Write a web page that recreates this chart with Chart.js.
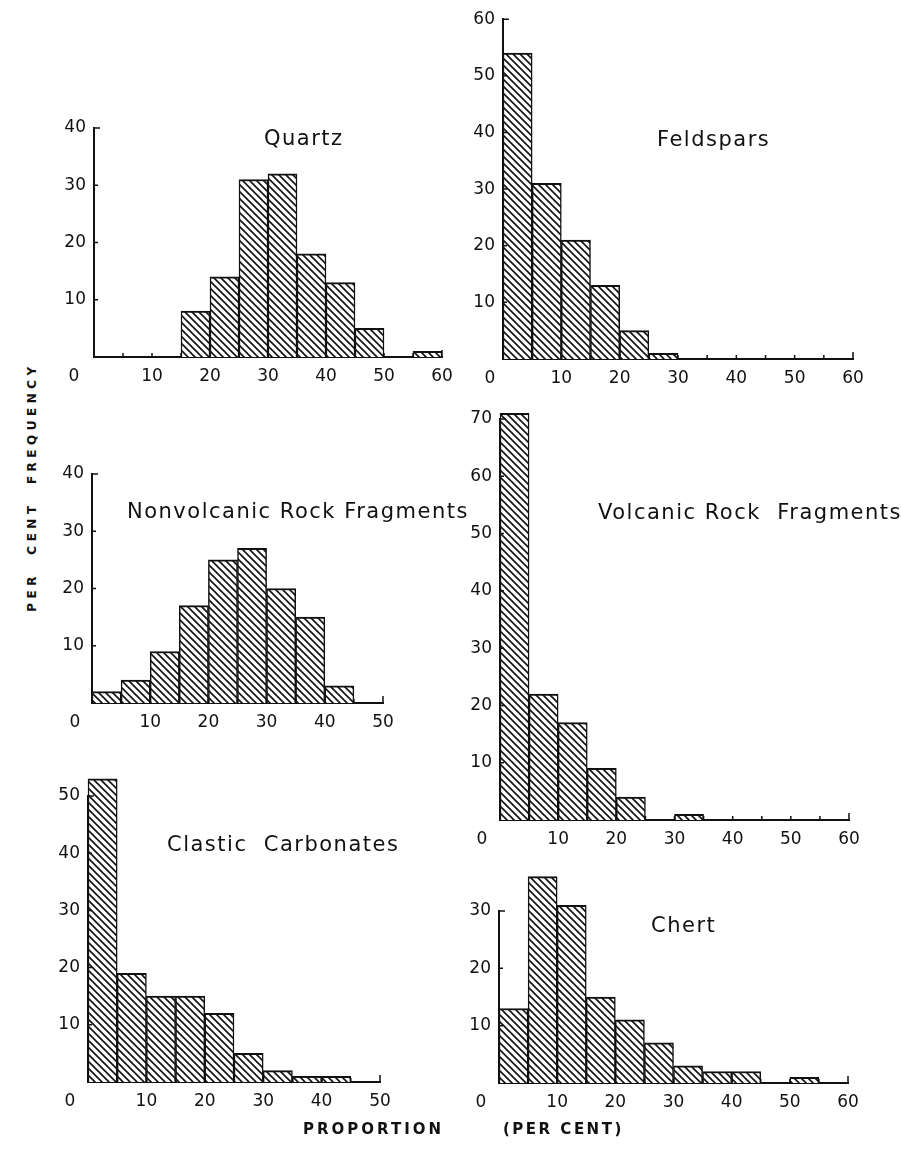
<!DOCTYPE html>
<html>
<head>
<meta charset="utf-8">
<script src="https://cdn.jsdelivr.net/npm/chart.js@4.4.1/dist/chart.umd.min.js"></script>
<style>
  html, body { margin: 0; padding: 0; background: #fff; }
  #sheet { position: relative; width: 901px; height: 1149px; overflow: hidden;
           font-family: "DejaVu Sans", sans-serif; color: #111; }
  #sheet canvas { position: absolute; }
  .ttl { position: absolute; font-size: 21px; line-height: 21px; letter-spacing: 1.5px; white-space: pre; }
  .axt { position: absolute; font-weight: bold; white-space: pre; }
</style>
</head>
<body>
<div id="sheet">
  <div class="ttl" style="left:264px; top:128px;">Quartz</div>
  <div class="ttl" style="left:657px; top:129px;">Feldspars</div>
  <div class="ttl" style="left:127px; top:501px;">Nonvolcanic Rock Fragments</div>
  <div class="ttl" style="left:598px; top:502px;">Volcanic Rock  Fragments</div>
  <div class="ttl" style="left:167px; top:834px;">Clastic  Carbonates</div>
  <div class="ttl" style="left:651px; top:915px;">Chert</div>

  <div class="axt" style="left:32px; top:487px; font-size:12px; letter-spacing:4.5px;
       transform: translate(-50%,-50%) rotate(-90deg);">PER  CENT  FREQUENCY</div>
  <div class="axt" style="left:303px; top:1120px; font-size:15px; line-height:18px; letter-spacing:3px;">PROPORTION</div>
  <div class="axt" style="left:503px; top:1120px; font-size:15px; line-height:18px; letter-spacing:2.5px;">(PER CENT)</div>
</div>

<script>
// Class midpoints (5 % wide classes)
const mids60 = [2.5, 7.5, 12.5, 17.5, 22.5, 27.5, 32.5, 37.5, 42.5, 47.5, 52.5, 57.5];
const mids50 = [2.5, 7.5, 12.5, 17.5, 22.5, 27.5, 32.5, 37.5, 42.5, 47.5];

// Per cent frequency in each class
const quartz      = [0, 0, 0, 8, 14, 31, 32, 18, 13, 5, 0, 1];
const feldspars   = [54, 31, 21, 13, 5, 1, 0, 0, 0, 0, 0, 0];
const nonvolcanic = [2, 4, 9, 17, 25, 27, 20, 15, 3, 0];
const volcanic    = [71, 22, 17, 9, 4, 0, 1, 0, 0, 0, 0, 0];
const clastic     = [53, 19, 15, 15, 12, 5, 2, 1, 1, 0];
const chert       = [13, 36, 31, 15, 11, 7, 3, 2, 2, 0, 1, 0];

// Axis extents
const xMaxWide = 60, xMaxNarrow = 50;
const yStep = 10, xTickStep = 5, xLabelStep = 10;

const FONT = '"DejaVu Sans", sans-serif';
const INK = '#111';
const TICK_SIZE = 17;

// Diagonal hatching used to fill every bar
function makeHatch() {
  const s = 7;
  const c = document.createElement('canvas');
  c.width = s; c.height = s;
  const g = c.getContext('2d');
  g.fillStyle = '#fff';
  g.fillRect(0, 0, s, s);
  g.strokeStyle = INK;
  g.lineWidth = 1.6;
  g.beginPath();
  g.moveTo(-1, -1); g.lineTo(s + 1, s + 1);
  g.moveTo(-1, s - 1); g.lineTo(1, s + 1);
  g.moveTo(s - 1, -1); g.lineTo(s + 1, 1);
  g.stroke();
  return document.createElement('canvas').getContext('2d').createPattern(c, 'repeat');
}
const hatch = makeHatch();

// Inward tick marks on both axes and the corner "0" label
const axisMarks = {
  id: 'axisMarks',
  afterDraw(chart, args, opts) {
    const { ctx } = chart;
    const x = chart.scales.x, y = chart.scales.y;
    ctx.save();
    ctx.strokeStyle = INK;
    ctx.lineWidth = 1.5;
    ctx.beginPath();
    x.ticks.forEach(t => {
      if (t.value === 0) return;
      const px = x.getPixelForValue(t.value);
      const len = t.value === x.max ? 7 : 4;
      ctx.moveTo(px, y.bottom);
      ctx.lineTo(px, y.bottom - len);
    });
    y.ticks.forEach(t => {
      if (t.value === 0) return;
      const py = y.getPixelForValue(t.value);
      const len = t.value === y.max ? 6 : 4;
      ctx.moveTo(x.left, py);
      ctx.lineTo(x.left + len, py);
    });
    ctx.stroke();
    ctx.fillStyle = INK;
    ctx.font = TICK_SIZE + 'px ' + FONT;
    ctx.textAlign = 'center';
    ctx.textBaseline = 'middle';
    ctx.fillText('0', x.getPixelForValue(0) + opts.zeroShift, y.bottom + 20);
    ctx.restore();
  }
};

const PAD_L = 50, PAD_R = 25, PAD_B = 40;

function histogram(p) {
  const sheet = document.getElementById('sheet');
  const cv = document.createElement('canvas');
  const w = p.x1 - p.x0 + PAD_L + PAD_R;
  const h = p.yb - p.yt + p.padTop + PAD_B;
  cv.width = w; cv.height = h;
  cv.style.left = (p.x0 - PAD_L) + 'px';
  cv.style.top = (p.yt - p.padTop) + 'px';
  cv.style.width = w + 'px';
  cv.style.height = h + 'px';
  sheet.insertBefore(cv, sheet.firstChild);

  new Chart(cv, {
    type: 'bar',
    data: {
      datasets: [{
        data: p.mids.map((m, i) => ({ x: m, y: p.values[i] })),
        backgroundColor: hatch,
        borderColor: INK,
        borderWidth: { top: 2, left: 1.5, right: 1.5, bottom: 0 },
        barPercentage: 1,
        categoryPercentage: 1,
        clip: false
      }]
    },
    options: {
      responsive: false,
      animation: false,
      devicePixelRatio: 1,
      layout: { padding: { top: p.padTop, right: PAD_R, left: 0, bottom: 0 } },
      plugins: {
        legend: { display: false },
        tooltip: { enabled: false },
        axisMarks: { zeroShift: p.zeroShift }
      },
      scales: {
        x: {
          type: 'linear', min: 0, max: p.xMax, offset: false,
          grid: { display: false, drawTicks: false, offset: false },
          border: { display: true, color: INK, width: 2 },
          ticks: {
            stepSize: xTickStep, autoSkip: false, maxRotation: 0, padding: 9,
            color: INK, font: { family: FONT, size: TICK_SIZE },
            callback: v => (v % xLabelStep === 0 && v !== 0) ? String(v) : ''
          },
          afterFit: s => { s.height = PAD_B; }
        },
        y: {
          min: 0, max: p.yMax,
          grid: { display: false, drawTicks: false },
          border: { display: true, color: INK, width: 2 },
          ticks: {
            stepSize: yStep, padding: 8,
            color: INK, font: { family: FONT, size: TICK_SIZE },
            callback: v => v === 0 ? '' : String(v)
          },
          afterFit: s => { s.width = PAD_L; }
        }
      }
    },
    plugins: [axisMarks]
  });
}

histogram({ values: quartz,      mids: mids60, xMax: xMaxWide,   yMax: 40, x0: 94,  x1: 442, yb: 357,  yt: 128, padTop: 20, zeroShift: -20 });
histogram({ values: feldspars,   mids: mids60, xMax: xMaxWide,   yMax: 60, x0: 503, x1: 853, yb: 359,  yt: 15,  padTop: 14, zeroShift: -13 });
histogram({ values: nonvolcanic, mids: mids50, xMax: xMaxNarrow, yMax: 40, x0: 92,  x1: 383, yb: 703,  yt: 474, padTop: 20, zeroShift: -17 });
histogram({ values: volcanic,    mids: mids60, xMax: xMaxWide,   yMax: 70, x0: 500, x1: 849, yb: 820,  yt: 419, padTop: 20, zeroShift: -18 });
histogram({ values: clastic,     mids: mids50, xMax: xMaxNarrow, yMax: 50, x0: 88,  x1: 380, yb: 1082, yt: 796, padTop: 30, zeroShift: -18 });
histogram({ values: chert,       mids: mids60, xMax: xMaxWide,   yMax: 30, x0: 499, x1: 848, yb: 1083, yt: 911, padTop: 45, zeroShift: -18 });
</script>
</body>
</html>
